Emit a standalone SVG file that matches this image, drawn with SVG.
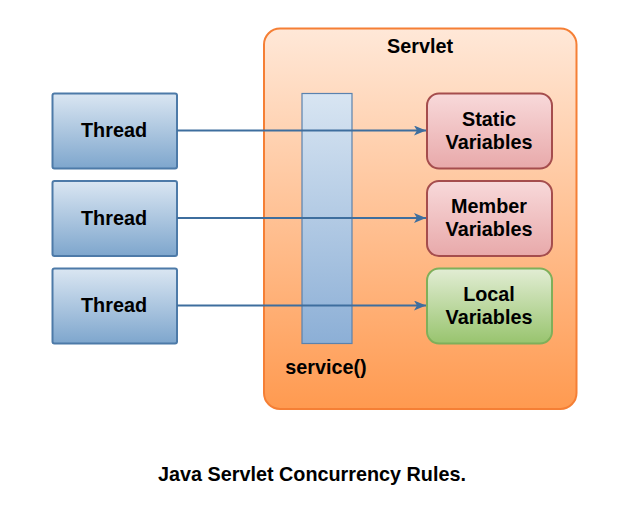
<svg xmlns="http://www.w3.org/2000/svg" width="644" height="506" viewBox="0 0 644 506">
<defs>
<linearGradient id="gServlet" x1="0" y1="0" x2="0" y2="1"><stop offset="0" stop-color="#FFE8D8"/><stop offset="1" stop-color="#FF9A50"/></linearGradient>
<linearGradient id="gBlue" x1="0" y1="0" x2="0" y2="1"><stop offset="0" stop-color="#DAE6F2"/><stop offset="1" stop-color="#7EA6CD"/></linearGradient>
<linearGradient id="gBar" x1="0" y1="0" x2="0" y2="1"><stop offset="0" stop-color="#D8E5F2"/><stop offset="1" stop-color="#8CAFD6"/></linearGradient>
<linearGradient id="gRed" x1="0" y1="0" x2="0" y2="1"><stop offset="0" stop-color="#F8D9DA"/><stop offset="1" stop-color="#E8A9AA"/></linearGradient>
<linearGradient id="gGreen" x1="0" y1="0" x2="0" y2="1"><stop offset="0" stop-color="#E2EDD4"/><stop offset="1" stop-color="#98C46E"/></linearGradient>
<marker id="arrow" viewBox="0 0 12 10" refX="12" refY="5" markerWidth="12" markerHeight="10" markerUnits="userSpaceOnUse" orient="auto"><path d="M0,0 L12,5 L0,10 L3,5 Z" fill="#3E6E9E"/></marker>
</defs>
<style>
text{font-family:"Liberation Sans",Arial,sans-serif;font-weight:bold;font-size:19.8px;fill:#000;text-anchor:middle}
.thread{fill:url(#gBlue);stroke:#4D7AA8;stroke-width:2}
.red{fill:url(#gRed);stroke:#A54D4D;stroke-width:2}
.green{fill:url(#gGreen);stroke:#7FAF5A;stroke-width:2}
.conn{stroke:#3E6E9E;stroke-width:2;fill:none}
</style>
<rect width="644" height="506" fill="#FFFFFF"/>
<g id="servlet">
<rect x="264" y="28.5" width="312.5" height="380.5" rx="16" fill="url(#gServlet)" stroke="#F57F35" stroke-width="2"/>
<text x="420" y="53">Servlet</text>
</g>
<g id="service">
<rect x="302" y="93.5" width="50" height="250" fill="url(#gBar)" stroke="#5A82AE" stroke-width="1.2"/>
<text x="326" y="374">service()</text>
</g>
<g id="thread1"><rect class="thread" x="52.5" y="93.5" width="124.5" height="75" rx="2"/><text x="114" y="137">Thread</text></g>
<g id="thread2"><rect class="thread" x="52.5" y="181" width="124.5" height="75" rx="2"/><text x="114" y="224.5">Thread</text></g>
<g id="thread3"><rect class="thread" x="52.5" y="268.5" width="124.5" height="75" rx="2"/><text x="114" y="312">Thread</text></g>
<g id="static"><rect class="red" x="427" y="93.5" width="125" height="75" rx="12"/><text x="489" y="125.5">Static</text><text x="489" y="148.5">Variables</text></g>
<g id="member"><rect class="red" x="427" y="181" width="125" height="75" rx="12"/><text x="489" y="213">Member</text><text x="489" y="236">Variables</text></g>
<g id="local"><rect class="green" x="427" y="268.5" width="125" height="75" rx="12"/><text x="489" y="300.5">Local</text><text x="489" y="323.5">Variables</text></g>
<g id="connectors">
<line class="conn" x1="177" y1="130.5" x2="426" y2="130.5" marker-end="url(#arrow)"/>
<line class="conn" x1="177" y1="218" x2="426" y2="218" marker-end="url(#arrow)"/>
<line class="conn" x1="177" y1="305.5" x2="426" y2="305.5" marker-end="url(#arrow)"/>
</g>
<text x="312" y="481">Java Servlet Concurrency Rules.</text>
</svg>
